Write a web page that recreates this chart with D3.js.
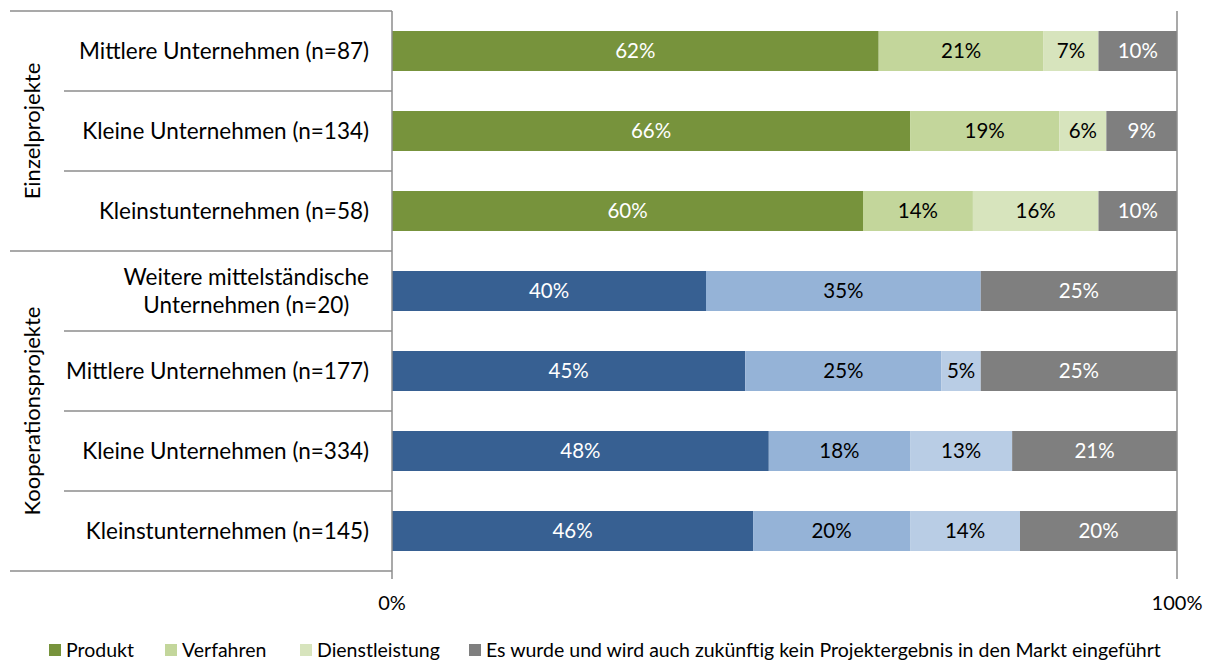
<!DOCTYPE html>
<html>
<head>
<meta charset="utf-8">
<script src="https://cdn.jsdelivr.net/npm/d3@7"></script>
<style>
  html, body { margin: 0; padding: 0; background: #fff; }
  svg text { font-family: Lato, "Open Sans", sans-serif; }
</style>
</head>
<body>
<svg id="chart" width="1206" height="660"></svg>
<script>
// Categories (top to bottom) and the project group each belongs to
const categories = [
  "Mittlere Unternehmen (n=87)",
  "Kleine Unternehmen (n=134)",
  "Kleinstunternehmen (n=58)",
  "Weitere mittelständische|Unternehmen (n=20)",
  "Mittlere Unternehmen (n=177)",
  "Kleine Unternehmen (n=334)",
  "Kleinstunternehmen (n=145)"
];
const groups = ["Einzelprojekte", "Einzelprojekte", "Einzelprojekte",
  "Kooperationsprojekte", "Kooperationsprojekte", "Kooperationsprojekte", "Kooperationsprojekte"];
const groupNames = ["Einzelprojekte", "Kooperationsprojekte"];

// Shares in percent per series
const seriesNames = ["Produkt", "Verfahren", "Dienstleistung",
  "Es wurde und wird auch zukünftig kein Projektergebnis in den Markt eingeführt"];
const produkt        = [62, 66, 60, 40, 45, 48, 46];
const verfahren      = [21, 19, 14, 35, 25, 18, 20];
const dienstleistung = [ 7,  6, 16,  0,  5, 13, 14];
const keinErgebnis   = [10,  9, 10, 25, 25, 21, 20];

const tickValues = [0, 100];

// Colours: green shades for Einzelprojekte, blue shades for Kooperationsprojekte
const greenFill = ["#77933C", "#C3D69B", "#D7E4BD", "#7F7F7F"];
const blueFill  = ["#376092", "#95B3D7", "#B9CDE5", "#7F7F7F"];
const labelInk  = ["#ffffff", "#000000", "#000000", "#ffffff"];

const values = [produkt, verfahren, dienstleistung, keinErgebnis];
const rows = categories.map((c, i) => {
  const r = { cat: c, idx: i, group: groups[i] };
  seriesNames.forEach((s, k) => r[s] = values[k][i]);
  return r;
});

const svg = d3.select("#chart");
const x = d3.scaleLinear().domain([0, 100]).range([392, 1177]);
const y = d3.scaleBand().domain(d3.range(categories.length)).range([11, 571]).paddingInner(0.5).paddingOuter(0.25);
const band = y.step();

const stacked = d3.stack().keys(seriesNames)(rows);

const lineColor = "#8c8c8c";

// Left-hand table lines
const sepTop = y(0) - band * 0.25;
svg.append("line").attr("x1", 10).attr("x2", 392).attr("y1", sepTop).attr("y2", sepTop)
  .attr("stroke", lineColor).attr("stroke-width", 1.5);
categories.forEach((c, i) => {
  const yy = y(i) + y.bandwidth() + band * 0.25;
  const full = i === categories.length - 1 || groups[i] !== groups[i + 1];
  svg.append("line").attr("x1", full ? 10 : 64).attr("x2", 392).attr("y1", yy).attr("y2", yy)
    .attr("stroke", lineColor).attr("stroke-width", 1.5);
});

// Bars with value labels
const seg = svg.append("g").selectAll("g").data(stacked).join("g");
seg.each(function(layer, k) {
  const parts = layer.filter(d => d[1] - d[0] > 0);
  d3.select(this).selectAll("rect").data(parts).join("rect")
    .attr("x", d => x(d[0]))
    .attr("y", d => y(d.data.idx))
    .attr("width", d => x(d[1]) - x(d[0]))
    .attr("height", y.bandwidth())
    .attr("fill", d => (d.data.group === groupNames[0] ? greenFill : blueFill)[k]);
  d3.select(this).selectAll("text").data(parts).join("text")
    .attr("x", d => (x(d[0]) + x(d[1])) / 2)
    .attr("y", d => y(d.data.idx) + y.bandwidth() / 2)
    .attr("dy", "0.36em")
    .attr("text-anchor", "middle")
    .attr("font-size", 20.5)
    .attr("fill", labelInk[k])
    .text(d => (d[1] - d[0]) + "%");
});

// Axis line and right boundary
svg.append("line").attr("x1", 392).attr("x2", 392).attr("y1", sepTop).attr("y2", 579)
  .attr("stroke", lineColor).attr("stroke-width", 1.5);
svg.append("line").attr("x1", 1177).attr("x2", 1177).attr("y1", sepTop).attr("y2", 579)
  .attr("stroke", lineColor).attr("stroke-width", 1.5);

// Tick labels
svg.append("g").selectAll("text").data(tickValues).join("text")
  .attr("x", d => x(d)).attr("y", 603).attr("dy", "0.36em")
  .attr("text-anchor", "middle").attr("font-size", 20).attr("fill", "#000")
  .text(d => d + "%");

// Category labels (multi-line labels are centred on their widest line)
categories.forEach((c, i) => {
  const lines = c.split("|");
  const cy = y(i) + y.bandwidth() / 2;
  const t = svg.append("text").attr("font-size", 22.5).attr("fill", "#000");
  const spans = lines.map((ln, j) => t.append("tspan")
    .attr("y", cy + (j - (lines.length - 1) / 2) * 28)
    .attr("dy", "0.36em").text(ln));
  if (lines.length === 1) {
    t.attr("text-anchor", "end");
    spans[0].attr("x", 369);
  } else {
    const w = d3.max(spans, s => s.node().getComputedTextLength());
    t.attr("text-anchor", "middle");
    spans.forEach(s => s.attr("x", 369 - w / 2));
  }
});

// Group labels (rotated)
groupNames.forEach(g => {
  const idx = d3.range(categories.length).filter(i => groups[i] === g);
  const top = y(idx[0]) - band * 0.25;
  const bot = y(idx[idx.length - 1]) + y.bandwidth() + band * 0.25;
  const cy = (top + bot) / 2;
  svg.append("text").attr("transform", `translate(32,${cy}) rotate(-90)`)
    .attr("text-anchor", "middle").attr("dy", "0.36em").attr("font-size", 22).attr("fill", "#000")
    .text(g);
});

// Legend
const legendX = [49, 165, 300, 469];
const legendColors = ["#77933C", "#C3D69B", "#D7E4BD", "#7F7F7F"];
const lg = svg.append("g");
seriesNames.forEach((s, k) => {
  lg.append("rect").attr("x", legendX[k]).attr("y", 644).attr("width", 12).attr("height", 12)
    .attr("fill", legendColors[k]);
  lg.append("text").attr("x", legendX[k] + 17).attr("y", 650).attr("dy", "0.36em")
    .attr("font-size", 19.5).attr("fill", "#000").text(s);
});
</script>
</body>
</html>
